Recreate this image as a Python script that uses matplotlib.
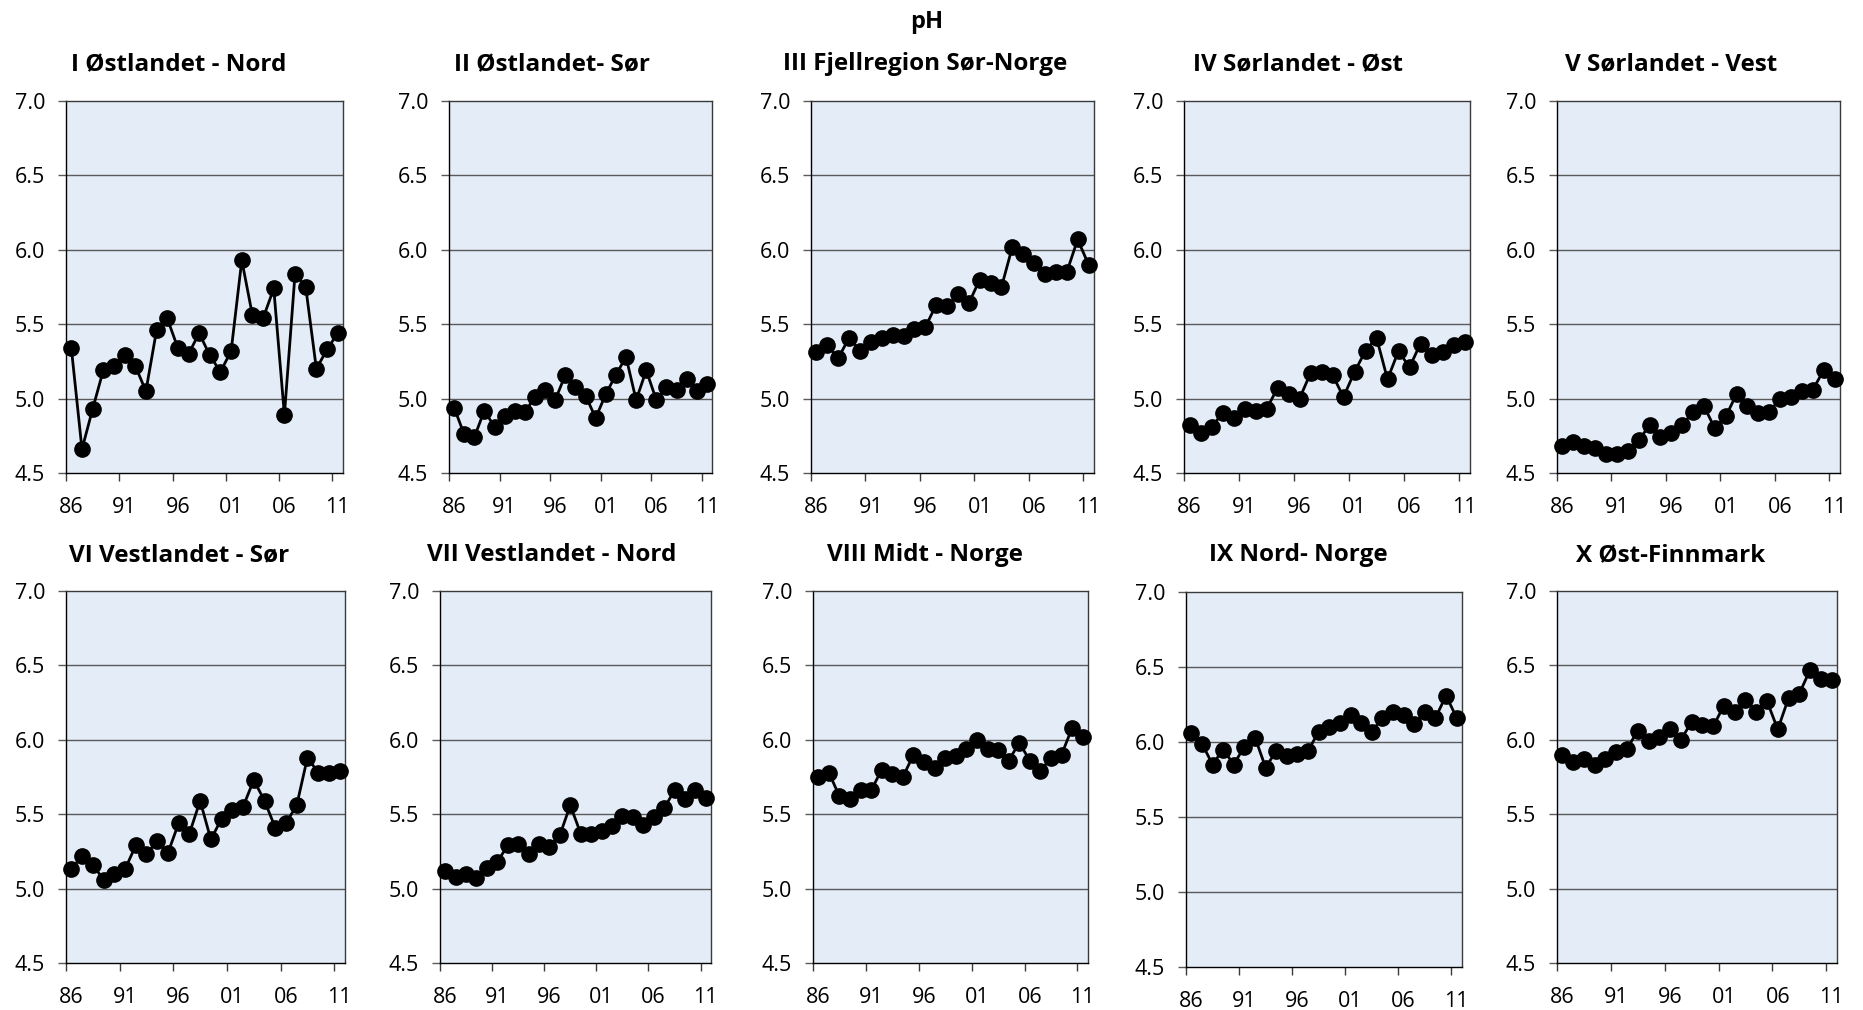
import matplotlib
matplotlib.use("Agg")
import matplotlib.pyplot as plt
from matplotlib.ticker import FixedLocator, NullFormatter

plt.rcParams.update({"font.family": ["Open Sans", "DejaVu Sans"], "text.color": "#000000",
                     "xtick.color": "#000000", "ytick.color": "#000000"})
BG, GRID, EDGE = "#e3ecf7", "#5a5a5a", "#3a3a3a"

YEARS = list(range(1986, 2012))
XLABELS = ["86", "91", "96", "01", "06", "11"]
TITLES = ["I Østlandet - Nord", "II Østlandet- Sør", "III Fjellregion Sør-Norge",
          "IV Sørlandet - Øst", "V Sørlandet - Vest", "VI Vestlandet - Sør",
          "VII Vestlandet - Nord", "VIII Midt - Norge", "IX Nord- Norge", "X Øst-Finnmark"]

ph_1 = [5.34, 4.66, 4.93, 5.19, 5.22, 5.29, 5.22, 5.05, 5.46, 5.54, 5.34, 5.30, 5.44,
        5.29, 5.18, 5.32, 5.93, 5.56, 5.54, 5.74, 4.89, 5.84, 5.75, 5.20, 5.33, 5.44]
ph_2 = [4.94, 4.76, 4.74, 4.92, 4.81, 4.88, 4.92, 4.91, 5.01, 5.06, 4.99, 5.16, 5.08,
        5.02, 4.87, 5.03, 5.16, 5.28, 4.99, 5.19, 4.99, 5.08, 5.06, 5.13, 5.05, 5.10]
ph_3 = [5.31, 5.36, 5.27, 5.41, 5.32, 5.38, 5.41, 5.43, 5.42, 5.47, 5.48, 5.63, 5.62,
        5.70, 5.64, 5.80, 5.78, 5.75, 6.02, 5.97, 5.91, 5.84, 5.85, 5.85, 6.07, 5.90]
ph_4 = [4.82, 4.77, 4.81, 4.90, 4.87, 4.93, 4.92, 4.93, 5.07, 5.03, 5.00, 5.17, 5.18,
        5.16, 5.01, 5.18, 5.32, 5.41, 5.13, 5.32, 5.21, 5.37, 5.29, 5.31, 5.36, 5.38]
ph_5 = [4.68, 4.71, 4.68, 4.67, 4.63, 4.63, 4.65, 4.72, 4.82, 4.74, 4.77, 4.82, 4.91,
        4.95, 4.80, 4.88, 5.03, 4.95, 4.90, 4.91, 5.00, 5.01, 5.05, 5.06, 5.19, 5.13]
ph_6 = [5.13, 5.22, 5.16, 5.06, 5.10, 5.13, 5.29, 5.23, 5.32, 5.24, 5.44, 5.37, 5.59,
        5.33, 5.47, 5.53, 5.55, 5.73, 5.59, 5.41, 5.44, 5.56, 5.88, 5.78, 5.78, 5.79]
ph_7 = [5.12, 5.08, 5.10, 5.07, 5.14, 5.18, 5.29, 5.30, 5.23, 5.30, 5.28, 5.36, 5.56,
        5.37, 5.37, 5.39, 5.42, 5.49, 5.48, 5.43, 5.48, 5.54, 5.66, 5.60, 5.66, 5.61]
ph_8 = [5.75, 5.78, 5.62, 5.60, 5.66, 5.66, 5.80, 5.77, 5.75, 5.90, 5.85, 5.81, 5.88,
        5.89, 5.94, 6.00, 5.94, 5.93, 5.86, 5.98, 5.86, 5.79, 5.88, 5.90, 6.08, 6.02]
ph_9 = [6.06, 5.99, 5.85, 5.95, 5.85, 5.97, 6.03, 5.83, 5.94, 5.91, 5.92, 5.94, 6.07,
        6.10, 6.13, 6.18, 6.13, 6.07, 6.16, 6.20, 6.18, 6.12, 6.20, 6.16, 6.31, 6.16]
ph_10 = [5.90, 5.85, 5.87, 5.83, 5.87, 5.92, 5.94, 6.06, 5.99, 6.02, 6.07, 6.00, 6.12,
         6.10, 6.09, 6.23, 6.19, 6.27, 6.19, 6.26, 6.07, 6.28, 6.31, 6.47, 6.41, 6.40]
SERIES = [ph_1, ph_2, ph_3, ph_4, ph_5, ph_6, ph_7, ph_8, ph_9, ph_10]

W, H = 1863, 1010
# plot-area boxes in pixels: (left, right, top, bottom)
BOXES = [(66, 343, 101, 473), (449, 712, 101, 473), (811, 1094, 101, 473),
         (1184, 1470, 101, 473), (1557, 1840, 101, 473),
         (66, 345, 591, 963), (440, 711, 591, 963), (813, 1088, 591, 963),
         (1186, 1462, 592, 967), (1557, 1837, 591, 963)]
TITLE_X = [179, 552, 925, 1298, 1671]
TITLE_Y = [64, 555]

fig = plt.figure(figsize=(W / 100, H / 100), dpi=100)
fig.patch.set_facecolor("white")
fig.text(927 / W, 1 - 22 / H, "pH", ha="center", va="center", fontsize=17, fontweight="bold")

for i, (vals, title, (l, r, t, b)) in enumerate(zip(SERIES, TITLES, BOXES)):
    ax = fig.add_axes([l / W, 1 - b / H, (r - l) / W, (b - t) / H])
    ax.set_facecolor(BG)
    x = list(range(len(YEARS)))
    ax.plot(x, vals, color="black", lw=2.0, marker="o", ms=11, zorder=3, clip_on=False)
    ax.set_xlim(-0.5, len(YEARS) - 0.5)
    ax.set_ylim(4.5, 7.0)
    yt = [4.5, 5.0, 5.5, 6.0, 6.5, 7.0]
    ax.set_yticks(yt)
    ax.set_yticklabels([f"{v:.1f}" for v in yt], fontsize=15.5)
    for v in yt[1:-1]:
        ax.axhline(v, color=GRID, lw=1.0, zorder=1)
    ax.set_xticks(list(range(0, len(YEARS), 5)))
    ax.set_xticklabels(XLABELS, fontsize=15.5)
    ax.xaxis.set_minor_locator(FixedLocator([k - 0.5 for k in range(0, len(YEARS), 5)]))
    ax.xaxis.set_minor_formatter(NullFormatter())
    ax.tick_params(axis="x", which="major", length=0, pad=17)
    ax.tick_params(axis="x", which="minor", length=6, width=1, color=EDGE, direction="out")
    ax.tick_params(axis="y", length=6, width=1, color=GRID, direction="out", pad=9)
    for s in ax.spines.values():
        s.set_color(EDGE)
        s.set_linewidth(1.0)
    ax.spines["left"].set_color("black")
    ax.spines["bottom"].set_color("black")
    fig.text(TITLE_X[i % 5] / W, 1 - TITLE_Y[i // 5] / H, title, ha="center", va="center",
             fontsize=17.5, fontweight="bold")

fig.savefig("out.png", dpi=100)
